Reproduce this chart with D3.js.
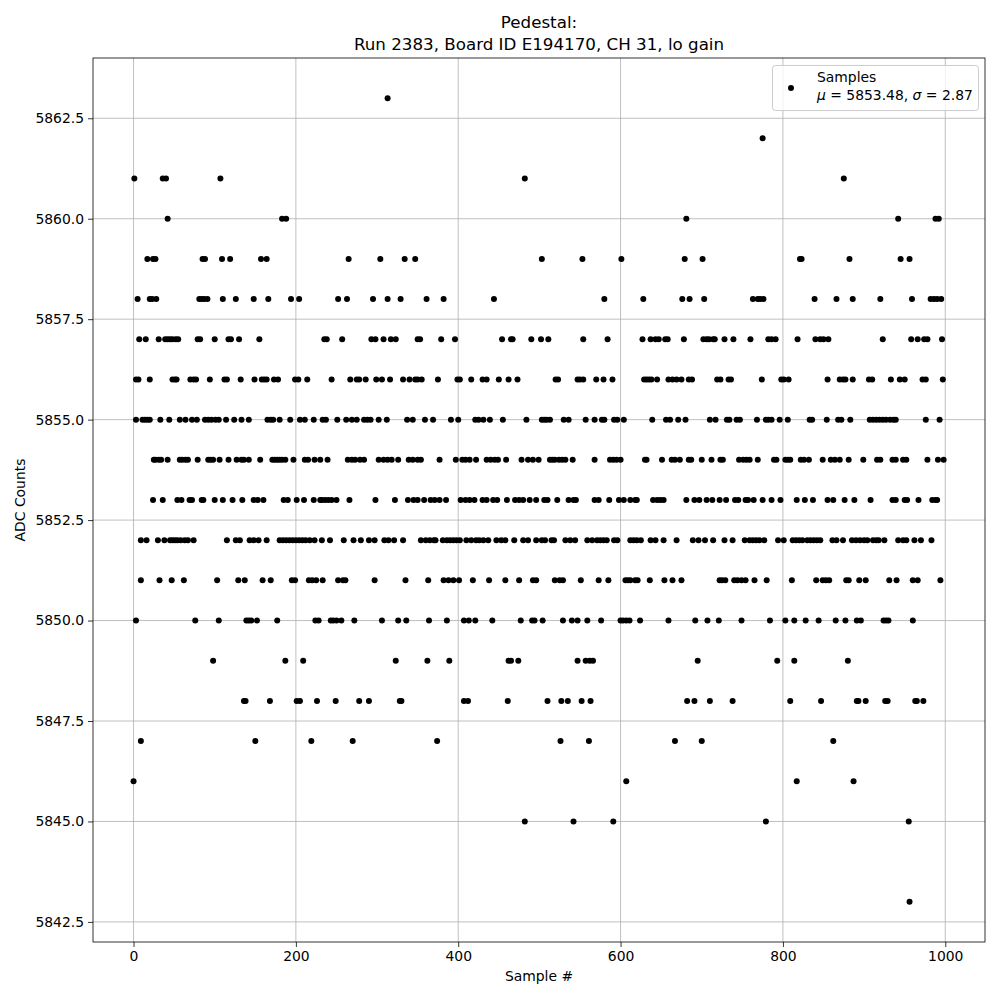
<!DOCTYPE html>
<html lang="en">
<head>
<meta charset="UTF-8">
<title>Pedestal</title>
<script src="https://d3js.org/d3.v7.min.js"></script>
<style>
  body { margin: 0; background: #fff; }
  text { font-family: "DejaVu Sans", sans-serif; fill: #000; }
</style>
</head>
<body>
<svg id="main" width="1000" height="1000"></svg>
<script>
// ADC levels and the sample numbers at each level
const adcLevels = [5863, 5862, 5861, 5860, 5859, 5858, 5857, 5856, 5855, 5854,
                   5853, 5852, 5851, 5850, 5849, 5848, 5847, 5846, 5845, 5843];

const samplesAtLevel = [
  [313],
  [775],
  [1, 36, 40, 107, 482, 875],
  [42, 183, 188, 681, 942, 988, 992],
  [17, 24, 27, 85, 88, 109, 119, 157, 164, 265, 304, 334, 347, 503, 553, 601, 679, 701,
   821, 823, 882, 945, 956],
  [5, 20, 23, 28, 81, 84, 87, 91, 110, 126, 148, 166, 194, 204, 252, 263, 295, 313, 329,
   361, 382, 444, 580, 628, 676, 685, 703, 763, 769, 772, 776, 839, 866, 886, 920, 959,
   982, 986, 990, 995],
  [7, 15, 31, 39, 42, 45, 48, 52, 55, 79, 82, 100, 117, 120, 130, 155, 235, 238, 257, 293,
   298, 308, 317, 323, 350, 353, 379, 396, 454, 465, 467, 490, 502, 511, 554, 584, 627,
   637, 643, 647, 655, 658, 678, 702, 706, 709, 714, 716, 728, 739, 760, 782, 786, 791,
   818, 840, 846, 850, 856, 923, 958, 966, 974, 978, 996],
  [3, 6, 20, 48, 51, 53, 70, 74, 77, 94, 112, 115, 132, 149, 158, 161, 164, 173, 178, 199,
   203, 214, 244, 267, 275, 278, 286, 299, 306, 316, 332, 340, 347, 350, 355, 375, 399,
   402, 416, 430, 435, 450, 462, 473, 520, 523, 547, 550, 554, 570, 579, 590, 629, 632,
   635, 638, 645, 659, 664, 669, 675, 684, 688, 719, 723, 733, 736, 774, 798, 801, 807,
   855, 870, 874, 877, 886, 906, 910, 933, 944, 950, 972, 976, 997],
  [3, 11, 14, 17, 20, 33, 44, 57, 64, 72, 78, 88, 92, 96, 101, 105, 114, 124, 133, 142,
   165, 169, 172, 180, 193, 205, 211, 222, 233, 237, 251, 262, 269, 275, 284, 288, 292,
   302, 312, 337, 344, 359, 369, 391, 400, 421, 425, 431, 439, 455, 484, 503, 506, 509,
   513, 530, 536, 557, 568, 577, 580, 592, 596, 604, 639, 656, 661, 671, 680, 710, 717,
   731, 734, 743, 747, 768, 779, 782, 786, 796, 806, 833, 836, 854, 868, 872, 883, 907,
   911, 915, 919, 923, 927, 932, 936, 939, 976, 993],
  [25, 27, 31, 34, 42, 57, 60, 64, 67, 79, 92, 95, 98, 106, 117, 127, 133, 136, 142, 156,
   171, 174, 177, 180, 183, 187, 197, 211, 215, 223, 230, 239, 264, 269, 273, 279, 284,
   302, 308, 313, 318, 326, 339, 344, 350, 354, 377, 397, 405, 409, 414, 422, 435, 440,
   445, 449, 459, 478, 486, 492, 499, 513, 516, 519, 524, 528, 532, 541, 568, 587, 591,
   595, 600, 630, 632, 651, 663, 667, 673, 684, 687, 700, 712, 723, 726, 746, 751, 755,
   759, 769, 789, 792, 803, 806, 809, 822, 826, 832, 849, 859, 864, 870, 881, 899, 916,
   920, 935, 939, 948, 952, 978, 991, 998],
  [24, 36, 54, 59, 69, 72, 84, 86, 100, 110, 122, 134, 148, 153, 160, 185, 190, 201, 210,
   222, 230, 232, 236, 240, 244, 250, 266, 298, 322, 338, 345, 350, 358, 366, 371, 377,
   385, 403, 409, 414, 420, 430, 435, 443, 448, 460, 470, 475, 480, 488, 496, 506, 510,
   522, 536, 542, 545, 568, 573, 586, 598, 604, 612, 618, 620, 640, 645, 649, 653, 681,
   691, 697, 706, 713, 722, 730, 741, 745, 754, 757, 764, 775, 786, 797, 817, 827, 837,
   855, 862, 876, 888, 908, 935, 939, 950, 953, 967, 984, 988, 990],
  [9, 16, 30, 38, 45, 48, 51, 54, 58, 63, 67, 74, 115, 126, 131, 143, 148, 154, 164, 180,
   184, 188, 192, 196, 200, 204, 208, 212, 217, 223, 232, 242, 259, 271, 280, 290, 297,
   309, 314, 321, 332, 354, 360, 365, 370, 372, 381, 386, 390, 394, 398, 402, 410, 416,
   422, 426, 431, 437, 447, 453, 458, 469, 480, 486, 496, 503, 507, 515, 518, 532, 538,
   544, 559, 565, 571, 575, 579, 583, 592, 596, 612, 616, 620, 625, 637, 643, 653, 669,
   689, 696, 704, 714, 728, 738, 753, 759, 763, 767, 771, 777, 794, 801, 812, 816, 820,
   824, 830, 834, 838, 842, 846, 861, 866, 874, 885, 890, 895, 900, 904, 911, 915, 918,
   925, 942, 948, 952, 962, 970, 983],
  [9, 32, 47, 62, 103, 129, 137, 159, 169, 195, 199, 216, 220, 225, 233, 252, 258, 261,
   297, 335, 363, 382, 388, 394, 401, 418, 438, 458, 475, 492, 496, 519, 525, 529, 551,
   573, 585, 606, 609, 612, 618, 621, 636, 654, 664, 675, 722, 725, 729, 740, 744, 749,
   754, 765, 780, 811, 841, 849, 853, 857, 878, 881, 894, 902, 931, 940, 960, 966, 994],
  [3, 76, 105, 139, 142, 145, 152, 177, 224, 228, 243, 246, 250, 256, 272, 306, 326, 336,
   364, 386, 407, 413, 421, 442, 477, 491, 494, 504, 529, 540, 547, 559, 576, 600, 603,
   607, 611, 624, 659, 692, 707, 721, 749, 784, 803, 814, 828, 844, 865, 877, 891, 896,
   924, 927, 930, 960],
  [98, 187, 209, 323, 362, 389, 462, 465, 474, 547, 557, 562, 566, 695, 793, 814, 880],
  [136, 138, 168, 201, 205, 226, 249, 278, 290, 328, 330, 407, 412, 461, 510, 527, 535,
   552, 563, 682, 691, 710, 738, 809, 847, 891, 893, 902, 926, 929, 963, 965, 973],
  [9, 150, 219, 270, 374, 526, 561, 667, 700, 862],
  [0, 607, 817, 887],
  [482, 542, 591, 779, 955],
  [956]
];

const xTickVals = [0, 200, 400, 600, 800, 1000];
const yTickVals = [5842.5, 5845.0, 5847.5, 5850.0, 5852.5, 5855.0, 5857.5, 5860.0, 5862.5];

// flatten into points
let points = [];
adcLevels.forEach(function(lvl, i) {
    samplesAtLevel[i].forEach(function(s) { points.push({ x: s, y: lvl }); });
});

const plotL = 93, plotR = 985, plotT = 58, plotB = 942;
const svg = d3.select('svg#main');

let x = d3.scaleLinear().domain([-49.95, 1048.95]).range([plotL, plotR]);
let y = d3.scaleLinear().domain([5842, 5864]).range([plotB, plotT]);

// grid
svg.append('g').selectAll('line').data(xTickVals).enter().append('line')
    .attr('x1', d => x(d)).attr('x2', d => x(d))
    .attr('y1', plotT).attr('y2', plotB)
    .attr('stroke', '#b0b0b0').attr('stroke-width', 0.8);
svg.append('g').selectAll('line').data(yTickVals).enter().append('line')
    .attr('y1', d => y(d)).attr('y2', d => y(d))
    .attr('x1', plotL).attr('x2', plotR)
    .attr('stroke', '#b0b0b0').attr('stroke-width', 0.8);

// axes
let xAxis = d3.axisBottom(x).tickValues(xTickVals).tickFormat(d3.format('d')).tickSizeOuter(0).tickSize(5).tickPadding(4);
let yAxis = d3.axisLeft(y).tickValues(yTickVals).tickFormat(d3.format('.1f')).tickSizeOuter(0).tickSize(5).tickPadding(4);

let gx = svg.append('g').attr('transform', 'translate(0,' + plotB + ')').call(xAxis);
let gy = svg.append('g').attr('transform', 'translate(' + plotL + ',0)').call(yAxis);
[gx, gy].forEach(function(g) {
    g.select('.domain').remove();
    g.selectAll('.tick line').attr('stroke', '#000').attr('stroke-width', 0.8);
    g.selectAll('.tick text').style('font-family', '"DejaVu Sans", sans-serif')
        .style('font-size', '13.9px').attr('fill', '#000');
});

// points
svg.append('g').selectAll('circle').data(points).enter().append('circle')
    .attr('cx', d => x(d.x)).attr('cy', d => y(d.y))
    .attr('r', 3).attr('fill', '#000');

// frame
svg.append('rect').attr('x', plotL).attr('y', plotT)
    .attr('width', plotR - plotL).attr('height', plotB - plotT)
    .attr('fill', 'none').attr('stroke', '#000').attr('stroke-width', 0.8);

// titles and labels
svg.append('text').attr('x', (plotL + plotR) / 2).attr('y', 28)
    .attr('text-anchor', 'middle').style('font-size', '16.7px').text('Pedestal:');
svg.append('text').attr('x', (plotL + plotR) / 2).attr('y', 50)
    .attr('text-anchor', 'middle').style('font-size', '16.7px')
    .text('Run 2383, Board ID E194170, CH 31, lo gain');
svg.append('text').attr('x', (plotL + plotR) / 2).attr('y', 981)
    .attr('text-anchor', 'middle').style('font-size', '13.9px').text('Sample #');
svg.append('text').attr('transform', 'translate(25,' + (plotT + plotB) / 2 + ') rotate(-90)')
    .attr('text-anchor', 'middle').style('font-size', '13.9px').text('ADC Counts');

// legend
let lg = svg.append('g');
lg.append('rect').attr('x', 772.5).attr('y', 65.5).attr('width', 206).attr('height', 45)
    .attr('rx', 3).attr('fill', '#fff').attr('fill-opacity', 0.8)
    .attr('stroke', '#cccccc').attr('stroke-width', 1);
lg.append('circle').attr('cx', 791).attr('cy', 88).attr('r', 3).attr('fill', '#000');
lg.append('text').attr('x', 817).attr('y', 82).style('font-size', '13.9px').text('Samples');
let t2 = lg.append('text').attr('x', 817).attr('y', 100).style('font-size', '13.9px');
t2.append('tspan').style('font-style', 'italic').text('\u03bc');
t2.append('tspan').text(' = 5853.48, ');
t2.append('tspan').style('font-style', 'italic').text('\u03c3');
t2.append('tspan').text(' = 2.87');
</script>
</body>
</html>
